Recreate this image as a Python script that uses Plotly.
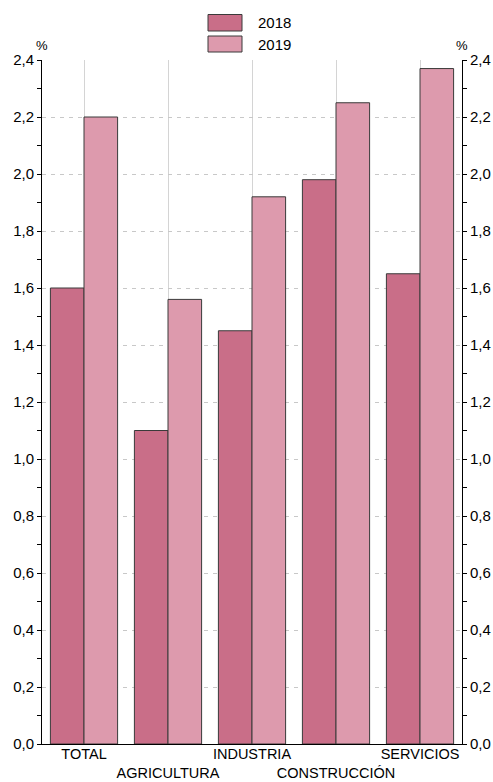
import plotly.graph_objects as go

categories = ["TOTAL", "AGRICULTURA", "INDUSTRIA", "CONSTRUCCIÓN", "SERVICIOS"]
tick_labels = ["TOTAL", "<br>AGRICULTURA", "INDUSTRIA", "<br>CONSTRUCCIÓN", "SERVICIOS"]
series_names = ["2018", "2019"]
values_2018 = [1.60, 1.10, 1.45, 1.98, 1.65]
values_2019 = [2.20, 1.56, 1.92, 2.25, 2.37]
colors = ["#C96E88", "#DD9AAD"]
y_ticks = [0.0, 0.2, 0.4, 0.6, 0.8, 1.0, 1.2, 1.4, 1.6, 1.8, 2.0, 2.2, 2.4]

FONT = "Liberation Sans, Arial, Helvetica, sans-serif"
W, H = 493, 782
L, R, T, B = 42, 31, 60, 38

fig = go.Figure()
for name, vals, col in zip(series_names, [values_2018, values_2019], colors):
    fig.add_trace(go.Bar(
        x=categories, y=vals, name=name,
        marker=dict(color=col, line=dict(color="#3a3a3a", width=1)),
        showlegend=False, yaxis="y",
    ))
# empty trace to activate the right-hand axis
fig.add_trace(go.Scatter(x=[], y=[], yaxis="y2", showlegend=False))

yax_common = dict(
    range=[0, 2.4], tickvals=y_ticks, tickformat=".1f",
    ticks="outside", ticklen=4, tickwidth=1, tickcolor="black",
    showline=True, linecolor="black", linewidth=1,
    minor=dict(dtick=0.1, tick0=0, ticks="outside", ticklen=4, tickcolor="black", showgrid=False),
    tickfont=dict(family=FONT, size=15, color="black"),
    zeroline=False, automargin=False,
)

fig.update_layout(
    width=W, height=H,
    margin=dict(l=L, r=R, t=T, b=B, pad=0, autoexpand=False),
    paper_bgcolor="white", plot_bgcolor="white",
    separators=",.",
    barmode="group", bargap=0.2, bargroupgap=0,
    font=dict(family=FONT, size=15, color="black"),
    xaxis=dict(
        tickvals=categories, ticktext=tick_labels, tickangle=0,
        showgrid=True, gridcolor="#d4d4d4", gridwidth=1,
        showline=True, linecolor="black", linewidth=1,
        ticks="", tickfont=dict(family=FONT, size=14.5, color="black"),
        range=[-0.5, 4.5], automargin=False, ticklabelstandoff=-3,
    ),
    yaxis=dict(**yax_common, side="left", showgrid=True, gridcolor="#c8c8c8",
               griddash="4px,5px", gridwidth=1),
    yaxis2=dict(**yax_common, side="right", overlaying="y", showgrid=False),
)

# "%" unit labels
for xp in [0, 1]:
    fig.add_annotation(x=xp, y=(744 - 45) / 684, xref="paper", yref="paper",
                       text="%", showarrow=False, xanchor="center", yanchor="middle",
                       font=dict(family=FONT, size=13, color="black"))

# custom legend
def px_x(p):
    return (p - L) / (W - L - R)

def px_y(p):
    return (H - B - p) / (H - T - B)

legend_rows = [(14.5, 31), (36, 52)]
for (y0, y1), name, col in zip(legend_rows, series_names, colors):
    fig.add_shape(type="rect", xref="paper", yref="paper",
                  x0=px_x(208), x1=px_x(242), y0=px_y(y1), y1=px_y(y0),
                  fillcolor=col, line=dict(color="#3a3a3a", width=1))
    fig.add_annotation(x=px_x(256), y=px_y((y0 + y1) / 2), xref="paper", yref="paper",
                       text=name, showarrow=False, xanchor="left", yanchor="middle",
                       font=dict(family=FONT, size=15, color="black"))

fig.write_html(
    "out.html",
    config={"displayModeBar": False},
    post_script="document.body.style.margin='0';document.body.style.overflow='hidden';",
)
